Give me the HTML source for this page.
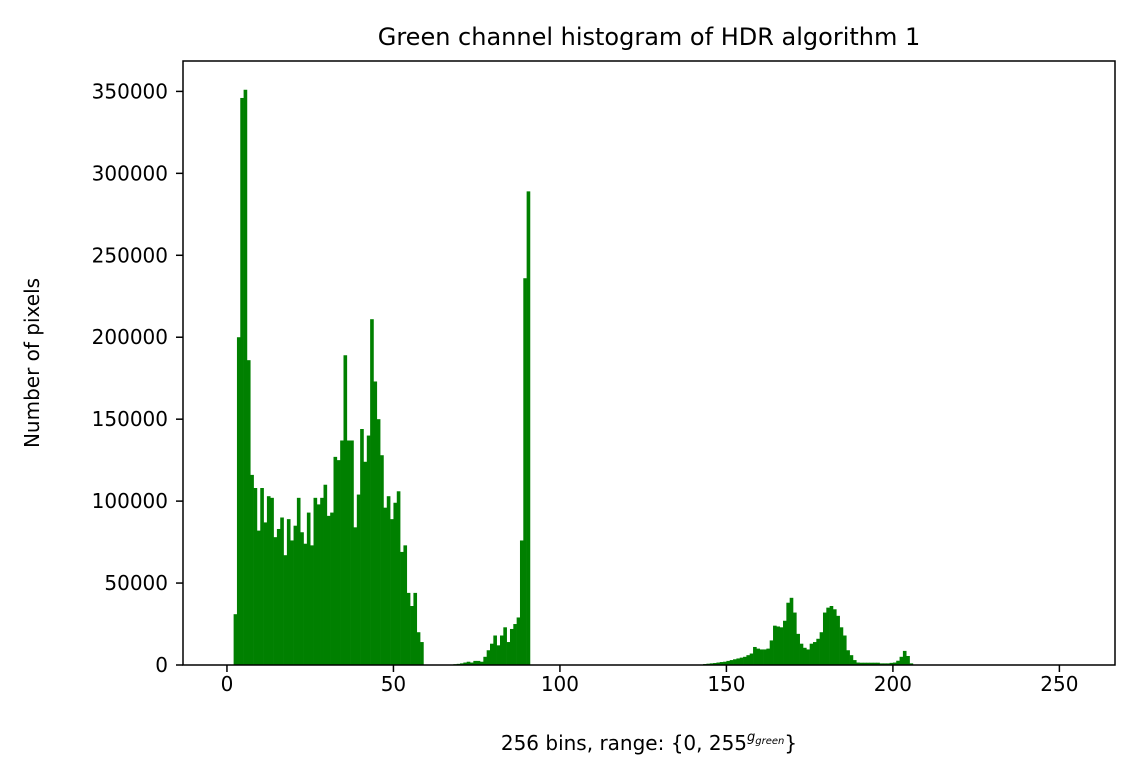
<!DOCTYPE html>
<html><head><meta charset="utf-8"><style>
body{margin:0;background:#fff}
svg text{font-family:"DejaVu Sans","Liberation Sans",sans-serif;fill:#000}
</style></head><body>
<svg id="chart" width="1138" height="777" xmlns="http://www.w3.org/2000/svg">
<text x="649" y="45" text-anchor="middle" font-size="24">Green channel histogram of HDR algorithm 1</text>
<text transform="translate(39,363) rotate(-90)" text-anchor="middle" font-size="20">Number of pixels</text>
<text x="649" y="750" text-anchor="middle" font-size="20">256 bins, range: {0, 255<tspan dy="-9" font-size="13" font-style="italic">g<tspan font-size="10" dy="3">green</tspan></tspan><tspan dy="6">}</tspan></text>
<g id="bars"></g>
<g id="axes"></g>
</svg>
<script>
const binStarts = [2,3,4,5,6,7,8,9,10,11,12,13,14,15,16,17,18,19,20,21,22,23,24,25,26,27,28,29,30,31,32,33,34,35,36,37,38,39,40,41,42,43,44,45,46,47,48,49,50,51,52,53,54,55,56,57,58,
68,69,70,71,72,73,74,75,76,77,78,79,80,81,82,83,84,85,86,87,88,89,90,
143,144,145,146,147,148,149,150,151,152,153,154,155,156,157,158,159,160,161,162,163,164,165,166,167,168,169,170,171,172,173,174,175,176,177,178,179,180,181,182,183,184,185,186,187,188,189,190,191,192,193,194,195,196,197,198,199,200,201,202,203,204,205,206];
const counts = [31000,200000,346000,351000,186000,116000,108000,82000,108000,87000,103000,102000,78000,83000,90000,67000,89000,76000,85000,102000,81000,74000,93000,73000,102000,98000,102000,110000,91000,93000,127000,125000,137000,189000,137000,137000,84000,104000,144000,124000,140000,211000,173000,150000,128000,96000,103000,89000,99000,106000,69000,73000,44000,36000,44000,20000,14000,
500,700,1000,1500,2000,1500,2500,2500,2000,5000,9000,13000,18000,12000,18000,23000,14000,22000,25000,29000,76000,236000,289000,
600,800,1000,1200,1500,1800,2000,2500,3000,3500,4000,4500,5000,6000,7000,11000,10000,9500,9500,10000,15000,24000,23500,23000,27000,38000,41000,32000,19000,13000,10500,9500,13000,14000,16000,20000,32000,35000,36000,34000,30000,23000,18000,9000,6000,3000,1500,1400,1400,1400,1400,1400,1400,1000,1000,1000,1300,1500,2600,5000,8600,5500,1000];
const xTicks = [0,50,100,150,200,250];
const yTicks = [0,50000,100000,150000,200000,250000,300000,350000];
const L=183,R=1115,T=61,B=665;
const xMin=-13.2,xMax=266.7,yMax=368550;
const xs=v=>L+(v-xMin)/(xMax-xMin)*(R-L);
const ys=v=>B-v/yMax*(B-T);
const NS='http://www.w3.org/2000/svg';
const bars=document.getElementById('bars'),axes=document.getElementById('axes');
const w=1;
binStarts.forEach((b,i)=>{
  const r=document.createElementNS(NS,'rect');
  const x0=xs(b*w),x1=xs((b+1)*w);
  r.setAttribute('x',x0);r.setAttribute('width',x1-x0+0.3);
  r.setAttribute('y',ys(counts[i]));r.setAttribute('height',B-ys(counts[i]));
  r.setAttribute('fill','#008000');
  
  
  bars.appendChild(r);
});
const frame=document.createElementNS(NS,'rect');
frame.setAttribute('x',L);frame.setAttribute('y',T);frame.setAttribute('width',R-L);frame.setAttribute('height',B-T);
frame.setAttribute('fill','none');frame.setAttribute('stroke','#000');frame.setAttribute('stroke-width','1.5');


axes.appendChild(frame);
xTicks.forEach(t=>{
  const l=document.createElementNS(NS,'line');
  l.setAttribute('x1',xs(t));l.setAttribute('x2',xs(t));l.setAttribute('y1',B);l.setAttribute('y2',B+7);l.setAttribute('stroke','#000');l.setAttribute('stroke-width','1.5');
  
  
  axes.appendChild(l);
  const tx=document.createElementNS(NS,'text');
  tx.setAttribute('x',xs(t));tx.setAttribute('y',B+26);tx.setAttribute('text-anchor','middle');tx.setAttribute('font-size','20');
  tx.textContent=t;
  
  
  axes.appendChild(tx);
});
yTicks.forEach(t=>{
  const l=document.createElementNS(NS,'line');
  l.setAttribute('x1',L-7);l.setAttribute('x2',L);l.setAttribute('y1',ys(t));l.setAttribute('y2',ys(t));l.setAttribute('stroke','#000');l.setAttribute('stroke-width','1.5');
  
  
  axes.appendChild(l);
  const tx=document.createElementNS(NS,'text');
  tx.setAttribute('x',L-15);tx.setAttribute('y',ys(t)+7);tx.setAttribute('text-anchor','end');tx.setAttribute('font-size','20');
  tx.textContent=t;
  
  
  axes.appendChild(tx);
});
</script>
</body></html>
